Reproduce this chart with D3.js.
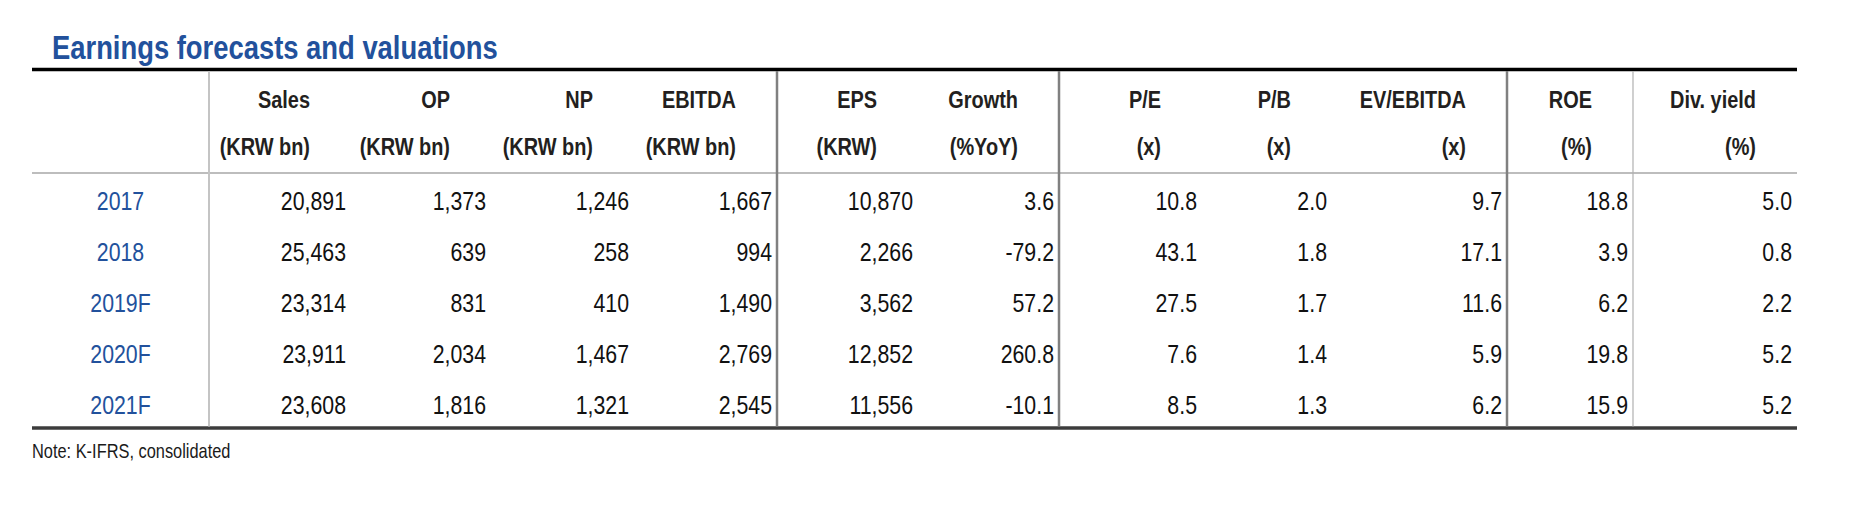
<!DOCTYPE html>
<html><head><meta charset="utf-8">
<script src="https://cdn.jsdelivr.net/npm/d3@7"></script>
<style>html,body{margin:0;padding:0;background:#fff;}svg{display:block;}</style>
</head><body>
<svg id="chart" width="1868" height="508"></svg>
<script>
// ---- data ----
const title = "Earnings forecasts and valuations";
const note = "Note: K-IFRS, consolidated";
const years = ["2017", "2018", "2019F", "2020F", "2021F"];
const headers1 = ["Sales", "OP", "NP", "EBITDA", "EPS", "Growth", "P/E", "P/B", "EV/EBITDA", "ROE", "Div. yield"];
const headers2 = ["(KRW bn)", "(KRW bn)", "(KRW bn)", "(KRW bn)", "(KRW)", "(%YoY)", "(x)", "(x)", "(x)", "(%)", "(%)"];
const sales = [20891, 25463, 23314, 23911, 23608];
const op = [1373, 639, 831, 2034, 1816];
const np = [1246, 258, 410, 1467, 1321];
const ebitda = [1667, 994, 1490, 2769, 2545];
const eps = [10870, 2266, 3562, 12852, 11556];
const growth = [3.6, -79.2, 57.2, 260.8, -10.1];
const pe = [10.8, 43.1, 27.5, 7.6, 8.5];
const pb = [2.0, 1.8, 1.7, 1.4, 1.3];
const evEbitda = [9.7, 17.1, 11.6, 5.9, 6.2];
const roe = [18.8, 3.9, 6.2, 19.8, 15.9];
const divYield = [5.0, 0.8, 2.2, 5.2, 5.2];

// ---- layout ----
const series = [sales, op, np, ebitda, eps, growth, pe, pb, evEbitda, roe, divYield];
const isInt = [true, true, true, true, true, false, false, false, false, false, false];
const colWidths = [177, 142, 140, 143, 143, 141, 141, 143, 130, 175, 126, 164]; // label col + 11 data cols
const left = 32;
const groupAfter = [3, 5, 8]; // darker separators after these data col indices
const lightAfter = [9];
const blue = "#22519c";
const FONT = "Liberation Sans, Arial, sans-serif";

const loc = d3.formatLocale({decimal: ".", thousands: ",", grouping: [3], currency: ["", ""], minus: "-"});
const fInt = loc.format(",d"), fDec = loc.format(".1f");

const svg = d3.select("#chart");
const edges = [left].concat(Array.from(d3.cumsum(colWidths), d => left + d));
const right = edges[edges.length - 1];
const colKeys = d3.range(colWidths.length);
const xLeft = d3.scaleOrdinal().domain(colKeys).range(edges.slice(0, -1));
const xRight = d3.scaleOrdinal().domain(colKeys).range(edges.slice(1));

const topY = 69.5, headMid = 121, headBottom = 173, bottomY = 428;
const y = d3.scaleBand().domain(years).range([headBottom, bottomY]);

function condensed(sel, sx) {
  sel.attr("transform", function() {
    const d = d3.select(this);
    return `translate(${d.attr("data-x")},${d.attr("data-y")}) scale(${sx},1)`;
  });
}

// title
svg.append("text").attr("data-x", 52).attr("data-y", 59)
  .attr("font-family", FONT).attr("font-weight", "bold")
  .attr("font-size", 33).attr("fill", blue).text(title).call(condensed, 0.83);

// lines
svg.append("line").attr("x1", left).attr("x2", right).attr("y1", topY).attr("y2", topY)
  .attr("stroke", "#000").attr("stroke-width", 3.5);
svg.append("line").attr("x1", left).attr("x2", right).attr("y1", headBottom).attr("y2", headBottom)
  .attr("stroke", "#bdbdbd").attr("stroke-width", 2);
svg.append("line").attr("x1", left).attr("x2", right).attr("y1", bottomY).attr("y2", bottomY)
  .attr("stroke", "#3c3c3c").attr("stroke-width", 3.5);

// vertical separators
const vlines = [{c: 0, color: "#c4c4c4", w: 2}]
  .concat(groupAfter.map(i => ({c: i + 1, color: "#808080", w: 2.5})))
  .concat(lightAfter.map(i => ({c: i + 1, color: "#b0b0b0", w: 1.2})));
svg.selectAll("line.v").data(vlines).join("line").attr("class", "v")
  .attr("x1", d => xRight(d.c)).attr("x2", d => xRight(d.c))
  .attr("y1", topY + 1.5).attr("y2", bottomY - 1.5)
  .attr("stroke", d => d.color).attr("stroke-width", d => d.w);

// headers
const hdr = headers1.map((h, i) => ({h1: h, h2: headers2[i], c: i + 1}));
const hg = svg.append("g").attr("font-family", FONT)
  .attr("font-weight", "bold").attr("font-size", 24).attr("fill", "#231f20").attr("text-anchor", "end");
hg.selectAll("text.h1").data(hdr).join("text").attr("class", "h1")
  .attr("data-x", d => xRight(d.c) - 41).attr("data-y", (topY + headMid) / 2 + 13)
  .text(d => d.h1).call(condensed, 0.83);
hg.selectAll("text.h2").data(hdr).join("text").attr("class", "h2")
  .attr("data-x", d => xRight(d.c) - 41).attr("data-y", (headMid + headBottom) / 2 + 8)
  .text(d => d.h2).call(condensed, 0.83);

// year labels
svg.append("g").attr("font-family", FONT).attr("font-size", 26)
  .attr("fill", blue).attr("text-anchor", "middle")
  .selectAll("text").data(years).join("text")
  .attr("data-x", (xLeft(0) + xRight(0)) / 2).attr("data-y", d => y(d) + y.bandwidth() / 2 + 11)
  .text(d => d).call(condensed, 0.82);

// data cells
const cells = [];
series.forEach((arr, ci) => arr.forEach((v, ri) => cells.push({c: ci + 1, yr: years[ri], v, int: isInt[ci]})));
svg.append("g").attr("font-family", FONT).attr("font-size", 26)
  .attr("fill", "#111").attr("text-anchor", "end")
  .selectAll("text").data(cells).join("text")
  .attr("data-x", d => xRight(d.c) - 5).attr("data-y", d => y(d.yr) + y.bandwidth() / 2 + 11)
  .text(d => d.int ? fInt(d.v) : fDec(d.v)).call(condensed, 0.82);

// note
svg.append("text").attr("data-x", left).attr("data-y", 458)
  .attr("font-family", FONT).attr("font-size", 20)
  .attr("fill", "#1a1a1a").text(note).call(condensed, 0.82);
</script>
</body></html>
